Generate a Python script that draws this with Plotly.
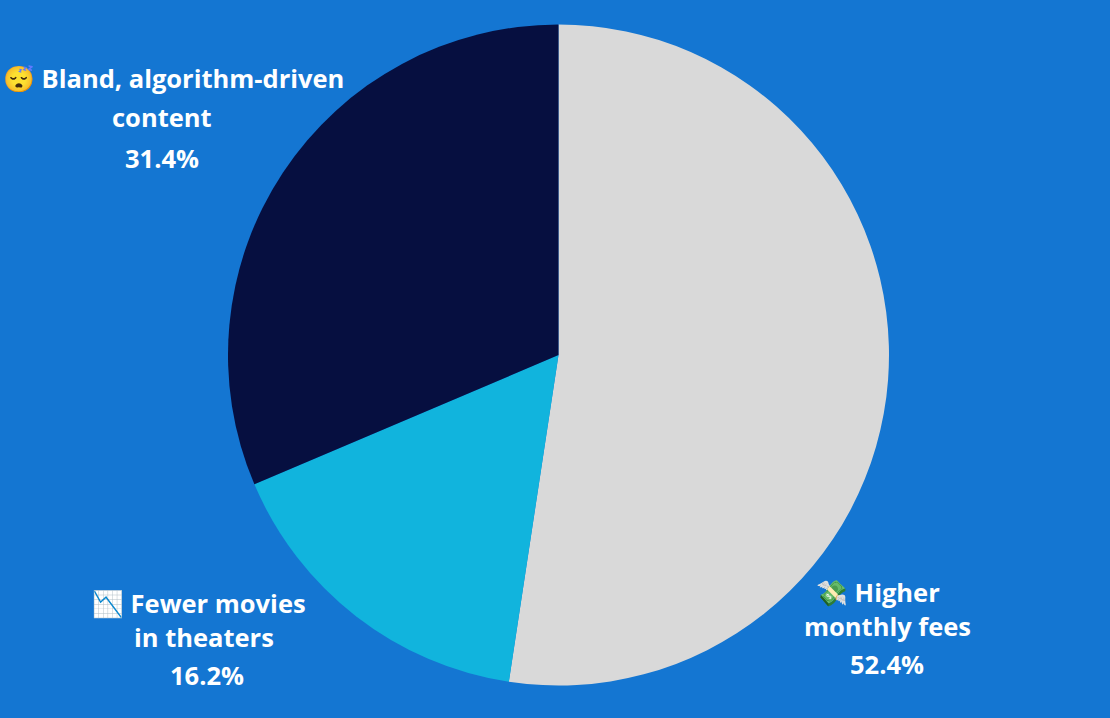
import plotly.graph_objects as go

categories = ["Higher monthly fees", "Fewer movies in theaters", "Bland, algorithm-driven content"]
shares = [52.4, 16.2, 31.4]
slice_colors = ["#D9D9D9", "#11B4DD", "#060F40"]
BG = "#1476D2"

WIDTH, HEIGHT = 1110, 718

fig = go.Figure(go.Pie(
    labels=categories, values=shares, sort=False, direction="clockwise", rotation=0,
    marker=dict(colors=slice_colors, line=dict(width=0)), textinfo="none", hoverinfo="label+percent",
    domain=dict(x=[228/WIDTH, 889/WIDTH], y=[1-686/HEIGHT, 1-24/HEIGHT]),
))

# Each label line is placed on its own so the line spacing can be wider than the default.
label_lines = [
    (173, 78, "😴 Bland, algorithm-driven"),
    (162, 117, "content"),
    (162, 158, "31.4%"),
    (199, 603, "📉 Fewer movies"),
    (204, 637, "in theaters"),
    (207, 675, "16.2%"),
    (878, 592, "💸 Higher"),
    (887, 626, "monthly fees"),
    (887, 664, "52.4%"),
]

for x, y, text in label_lines:
    fig.add_annotation(x=x/WIDTH, y=1-y/HEIGHT, xref="paper", yref="paper", text=f"<b>{text}</b>",
                       showarrow=False, xanchor="center", yanchor="middle",
                       font=dict(family="Open Sans", size=25.5, color="white"))

fig.update_layout(width=WIDTH, height=HEIGHT, margin=dict(l=0, r=0, t=0, b=0),
                  paper_bgcolor=BG, plot_bgcolor=BG, showlegend=False)
fig.write_html("out.html")
